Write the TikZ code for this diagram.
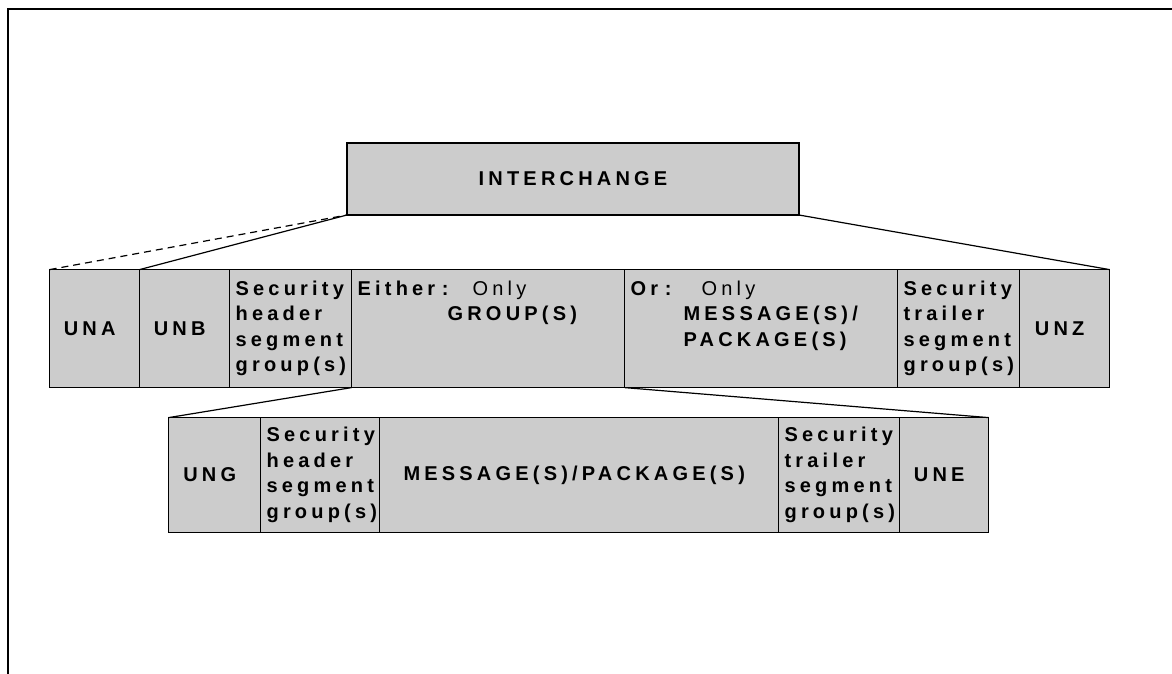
\documentclass[tikz,border=0pt]{standalone}
\usepackage{fontspec}
\newfontfamily\segfont[LetterSpace=21]{Liberation Sans}
\usetikzlibrary{matrix}
\definecolor{cellgray}{gray}{0.8}
\tikzset{
  cell/.style={draw, fill=cellgray, outer sep=0pt, inner xsep=6pt, inner ysep=0pt,
    anchor=center, font=\segfont\fontsize{20}{25.5}\selectfont\bfseries},
  seg/.style={cell, minimum width=#1, align=center},
  grp/.style={cell, text width=#1, align=left},
  dashlink/.style={dash pattern=on 7pt off 5pt},
}

\begin{document}
\begin{tikzpicture}[x=1pt, y=-1pt, line width=1.2pt]
\useasboundingbox (0,0) rectangle (1172,674);
\draw[line width=1.8pt] (8,674) -- (8,9) -- (1172,9);

\node[seg=452pt, minimum height=72pt] (ichg) at (573,179) {INTERCHANGE};

\matrix (toprow) [matrix of nodes, anchor=north west, inner sep=0pt, outer sep=0pt,
			column sep=-1.2pt, nodes={minimum height=118pt}] at (49,269)
{
|[seg=90pt]| UNA	& |[seg=90pt]| UNB	& |[grp=110pt]| {Security\\header\\segment\\group(s)}
	& |[grp=261pt]| {\makebox[115pt][l]{Either :}{\mdseries Only}\\\hspace*{90pt}GROUP(S)\\\mbox{}\\\vphantom{g}}
	& |[grp=261pt]| {\makebox[71pt][l]{Or :}{\mdseries Only}\\\hspace*{53pt}MESSAGE(S)/\\\hspace*{53pt}PACKAGE(S)\\\vphantom{g}}
	& |[grp=110pt]| {Security\\trailer\\segment\\group(s)}	& |[seg=90pt]| UNZ \\
};

\matrix (botrow) [matrix of nodes, anchor=north west, inner sep=0pt, outer sep=0pt,
			column sep=-1.2pt, nodes={minimum height=115pt}] at (168,417)
{
|[seg=92pt]| UNG	& |[grp=107pt]| {Security\\header\\segment\\group(s)}
	& |[seg=399pt]| MESSAGE(S)/PACKAGE(S)
	& |[grp=109pt]| {Security\\trailer\\segment\\group(s)}	& |[seg=89pt]| UNE \\
};

\draw[dashlink] (toprow-1-1.north west) -- (ichg.south west);
\draw (toprow-1-2.north west) -- (ichg.south west);
\draw (ichg.south east) -- (toprow-1-7.north east);
\draw (toprow-1-3.south east) -- (botrow-1-1.north west);
\draw (toprow-1-5.south west) -- (botrow-1-5.north east);

\end{tikzpicture}
\end{document}
